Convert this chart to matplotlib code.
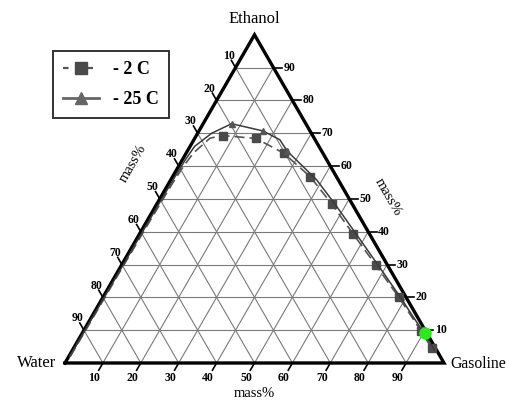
import numpy as np
import matplotlib
matplotlib.use("Agg")
import matplotlib.pyplot as plt
from matplotlib.lines import Line2D

plt.rcParams["font.family"] = ["Liberation Serif", "DejaVu Serif"]

# ── Data (mass fractions) ───────────────────────────────────────────────────
# -2 C binodal curve (ethanol, gasoline); water = 1 - ethanol - gasoline
cold_ethanol  = [0.02, 0.15, 0.30, 0.45, 0.55, 0.60, 0.64, 0.685,
                 0.693, 0.684, 0.639, 0.567, 0.484, 0.392, 0.299, 0.200, 0.098, 0.045]
cold_gasoline = [0.004, 0.005, 0.006, 0.008, 0.010, 0.013, 0.019, 0.040,
                 0.070, 0.162, 0.258, 0.364, 0.462, 0.565, 0.670, 0.781, 0.890, 0.945]
cold_marked   = list(range(8, 18))

# 25 C binodal curve
warm_ethanol  = [0.02, 0.15, 0.30, 0.45, 0.55, 0.62, 0.66, 0.700, 0.729,
                 0.707, 0.680, 0.646, 0.558, 0.480, 0.390, 0.300, 0.200, 0.100, 0.040]
warm_gasoline = [0.002, 0.003, 0.004, 0.005, 0.006, 0.008, 0.012, 0.037, 0.075,
                 0.169, 0.227, 0.263, 0.385, 0.475, 0.575, 0.675, 0.785, 0.892, 0.955]
warm_marked   = [8, 9, 11]

# highlighted point
point_ethanol  = [0.092]
point_gasoline = [0.904]

TICKS = [10, 20, 30, 40, 50, 60, 70, 80, 90]
H = np.sqrt(3) / 2


def to_xy(ethanol, gasoline):
    e = np.asarray(ethanol, dtype=float)
    g = np.asarray(gasoline, dtype=float)
    return g + e / 2, e * H


# ── Figure ───────────────────────────────────────────────────────────────────
fig = plt.figure(figsize=(5.09, 4.0), dpi=100)
ax = fig.add_axes([0, 0, 1, 1])
ax.set_xlim(-65 / 379, 444 / 379)
ax.set_ylim(-37 / 379, 363 / 379)
ax.set_aspect("equal")
ax.axis("off")

# grid
for t in TICKS:
    f = t / 100
    for (e0, g0), (e1, g1) in [((f, 0), (f, 1 - f)),          # const ethanol
                               ((0, f), (1 - f, f)),          # const gasoline
                               ((0, 1 - f), (1 - f, 0))]:     # const water
        x, y = to_xy([e0, e1], [g0, g1])
        ax.plot(x, y, color="#7a7a7a", lw=0.8, zorder=1)

# outline
x, y = to_xy([0, 0, 1, 0], [0, 1, 0, 0])
ax.plot(x, y, color="black", lw=2.4, solid_joinstyle="miter", zorder=4)

# ticks + labels
tl = 0.022
tick_font = dict(fontsize=8.5, fontweight="bold")
for t in TICKS:
    f = t / 100
    # bottom: gasoline
    bx, by = to_xy(0, f)
    d = np.array([-0.5, -H])
    ax.plot([bx, bx + d[0] * tl], [by, by + d[1] * tl], color="black", lw=1.2, zorder=4)
    ax.text(bx + d[0] * 0.045, by + d[1] * 0.045, str(t), ha="center", va="center", **tick_font)
    # right: ethanol
    rx, ry = to_xy(f, 1 - f)
    ax.plot([rx, rx + tl], [ry, ry], color="black", lw=1.2, zorder=4)
    ax.text(rx + 0.026, ry, str(t), ha="left", va="center", **tick_font)
    # left: water
    lx, ly = to_xy(1 - f, 0)
    d = np.array([-0.5, H])
    ax.plot([lx, lx + d[0] * tl], [ly, ly + d[1] * tl], color="black", lw=1.2, zorder=4)
    ax.text(lx + d[0] * 0.036, ly + d[1] * 0.036, str(t), ha="center", va="center", **tick_font)

# vertex and axis titles
ax.text(0.5, H + 0.02, "Ethanol", ha="center", va="bottom", fontsize=12)
ax.text(-0.022, 0, "Water", ha="right", va="center", fontsize=12)
ax.text(1.017, -0.003, "Gasoline", ha="left", va="center", fontsize=11.3)
ax.text(0.18, 0.527, "mass%", ha="center", va="center", rotation=60, fontsize=10.5)
ax.text(0.852, 0.437, "mass%", ha="center", va="center", rotation=-60, fontsize=10.5)
ax.text(0.5, -0.063, "mass%", ha="center", va="top", fontsize=10.5)

# curves
x, y = to_xy(cold_ethanol, cold_gasoline)
ax.plot(x, y, color="#555555", lw=1.2, dashes=(6, 3), marker="s", markersize=6,
        markevery=cold_marked, markerfacecolor="#4a4a4a", markeredgecolor="#4a4a4a", zorder=5)
x, y = to_xy(warm_ethanol, warm_gasoline)
ax.plot(x, y, color="#3a3a3a", lw=1.1, marker="^", markersize=4,
        markevery=warm_marked, markerfacecolor="#555555", markeredgecolor="#555555", zorder=5)
x, y = to_xy(point_ethanol, point_gasoline)
ax.plot(x, y, "o", color="#2ee81e", markersize=8, zorder=6)

# legend
handles = [
    Line2D([], [], color="#555555", lw=1.6, dashes=(2.5, 3), marker="s", markersize=8,
           markerfacecolor="#4a4a4a", markeredgecolor="#4a4a4a"),
    Line2D([], [], color="#666666", lw=2.0, marker="^", markersize=8,
           markerfacecolor="#666666", markeredgecolor="#666666"),
]
leg = ax.legend(handles, ["- 2 C", "- 25 C"], loc="upper left",
                bbox_to_anchor=(53 / 509, 1 - 51 / 400), bbox_transform=fig.transFigure,
                prop={"weight": "bold", "size": 13}, frameon=True, fancybox=False,
                handlelength=2.0, borderpad=0.55, labelspacing=0.75, handletextpad=0.8,
                borderaxespad=0)
leg.get_frame().set_edgecolor("black")
leg.get_frame().set_linewidth(1.4)

fig.savefig("out.png", dpi=100)
